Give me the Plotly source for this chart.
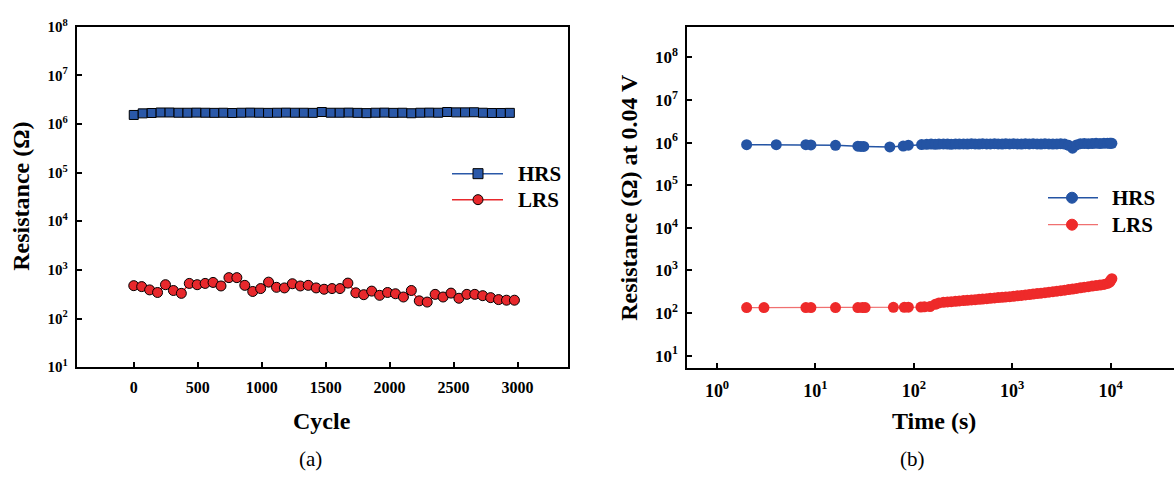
import plotly.graph_objects as go

# ---------------- data ----------------
# (a) endurance
cycle_hrs = [0, 70, 140, 210, 280, 350, 420, 490, 560, 630, 700, 770, 840, 910, 980,
             1050, 1120, 1190, 1260, 1330, 1400, 1470, 1540, 1610, 1680, 1750, 1820,
             1890, 1960, 2030, 2100, 2170, 2240, 2310, 2380, 2450, 2520, 2590, 2660,
             2730, 2800, 2870, 2940]
r_hrs_cycle = [1.53e6, 1.65e6, 1.68e6, 1.72e6, 1.72e6, 1.70e6, 1.70e6, 1.71e6, 1.70e6,
               1.69e6, 1.70e6, 1.68e6, 1.70e6, 1.71e6, 1.70e6, 1.69e6, 1.70e6, 1.71e6,
               1.70e6, 1.70e6, 1.69e6, 1.76e6, 1.70e6, 1.70e6, 1.71e6, 1.69e6, 1.67e6,
               1.70e6, 1.71e6, 1.69e6, 1.70e6, 1.66e6, 1.70e6, 1.71e6, 1.70e6, 1.76e6,
               1.73e6, 1.73e6, 1.74e6, 1.70e6, 1.68e6, 1.68e6, 1.69e6]
cycle_lrs = [0, 62, 124, 186, 248, 310, 372, 434, 496, 558, 620, 682, 744, 806, 868,
             930, 992, 1054, 1116, 1178, 1240, 1302, 1364, 1426, 1488, 1550, 1612, 1674,
             1736, 1798, 1860, 1922, 1984, 2046, 2108, 2170, 2232, 2294, 2356, 2418,
             2480, 2542, 2604, 2666, 2728, 2790, 2852, 2914, 2976]
r_lrs_cycle = [474, 453, 388, 343, 496, 377, 329, 527, 496, 527,
               552, 467, 693, 693, 481, 360, 413, 560, 438, 426,
               519, 467, 481, 426, 400, 413, 413, 535, 338, 309,
               366, 300, 343, 323, 277, 377, 231, 218, 314, 277,
               333, 261, 314, 314, 295, 269, 245, 238, 238]

# (b) retention
time_hrs = [2, 4, 8, 9, 16, 27, 29, 31, 57, 78, 88,
            120, 135, 150, 165, 180, 200, 220, 240, 265, 290,
            320, 350, 385, 420, 460, 500, 550, 600, 660, 720,
            790, 860, 940, 1030, 1130, 1240, 1360, 1490, 1630, 1790,
            1960, 2150, 2360, 2590, 2840, 3110, 3410, 3740, 4100, 4500,
            4930, 5400, 5920, 6490, 7110, 7800, 8550, 9300, 9800, 10000, 10300]
r_hrs_time = [8.9e5, 8.9e5, 8.9e5, 8.8e5, 8.6e5, 8.2e5, 8.1e5, 8.1e5, 7.9e5, 8.3e5, 8.7e5,
              9.0e5, 9.1e5, 9.2e5, 9.1e5, 9.2e5, 9.3e5, 9.2e5, 9.1e5, 9.3e5, 9.2e5,
              9.3e5, 9.2e5, 9.4e5, 9.3e5, 9.2e5, 9.4e5, 9.3e5, 9.3e5, 9.4e5, 9.3e5,
              9.2e5, 9.4e5, 9.3e5, 9.4e5, 9.3e5, 9.2e5, 9.4e5, 9.3e5, 9.4e5, 9.3e5,
              9.2e5, 9.4e5, 9.3e5, 9.2e5, 9.3e5, 9.4e5, 9.2e5, 8.6e5, 7.4e5, 8.8e5,
              9.4e5, 9.5e5, 9.4e5, 9.5e5, 9.6e5, 9.5e5, 9.6e5, 9.7e5, 9.6e5, 9.7e5, 9.6e5]
time_lrs = [2, 3, 8, 9, 16, 27, 30, 32, 62, 80, 88, 118, 128, 146,
            165, 180, 200, 220, 240, 265, 290,
            320, 350, 385, 420, 460, 500, 550, 600, 660, 720,
            790, 860, 940, 1030, 1130, 1240, 1360, 1490, 1630, 1790,
            1960, 2150, 2360, 2590, 2840, 3110, 3410, 3740, 4100, 4500,
            4930, 5400, 5920, 6490, 7110, 7800, 8550, 9300, 9800, 10000, 10300]
r_lrs_time = [134, 134, 134, 134, 134, 134, 134, 134, 136, 136, 137, 138, 140, 142,
              160, 172, 178, 182, 185, 188, 192,
              196, 199, 203, 206, 210, 213, 217, 221, 226, 230,
              234, 238, 242, 247, 253, 259, 265, 272, 279, 286,
              293, 300, 308, 316, 325, 334, 344, 355, 366, 378,
              390, 403, 416, 430, 440, 452, 470, 495, 530, 580, 640]

log_ticks = [10, 100, 1e3, 1e4, 1e5, 1e6, 1e7, 1e8]
log_ticktext = ["10<sup>%d</sup>" % i for i in range(1, 9)]
time_ticks = [1, 10, 100, 1e3, 1e4]
time_ticktext = ["10<sup>%d</sup>" % i for i in range(0, 5)]
cycle_ticks = [0, 500, 1000, 1500, 2000, 2500, 3000]
legend_names = ["HRS", "LRS"]

# ---------------- style ----------------
FONT = "Liberation Serif"
BLUE = "#2a58a8"
RED = "#e8282c"
BLUE2 = "#2454a4"
RED2 = "#ee2a2a"
W, H = 1174, 483


def px_x(p):
    return p / W


def px_y(p):
    return (H - p) / H


fig = go.Figure()

fig.add_trace(go.Scatter(
    x=cycle_hrs, y=r_hrs_cycle, name="HRS", mode="lines+markers",
    line=dict(color=BLUE, width=1.5),
    marker=dict(symbol="square", size=9, color=BLUE, line=dict(color="black", width=1)),
    xaxis="x", yaxis="y", showlegend=False))
fig.add_trace(go.Scatter(
    x=cycle_lrs, y=r_lrs_cycle, name="LRS", mode="lines+markers",
    line=dict(color=RED, width=1.5),
    marker=dict(symbol="circle", size=10, color=RED, line=dict(color="black", width=1)),
    xaxis="x", yaxis="y", showlegend=False))

fig.add_trace(go.Scatter(
    x=time_hrs, y=r_hrs_time, name="HRS", mode="lines+markers",
    line=dict(color=BLUE2, width=1.5),
    marker=dict(symbol="circle", size=11, color=BLUE2),
    xaxis="x2", yaxis="y2", showlegend=False))
fig.add_trace(go.Scatter(
    x=time_lrs, y=r_lrs_time, name="LRS", mode="lines+markers",
    line=dict(color="#f07070", width=1.2),
    marker=dict(symbol="circle", size=11, color=RED2),
    xaxis="x2", yaxis="y2", showlegend=False))

tick_common = dict(ticks="inside", ticklen=5, tickwidth=1.5, tickcolor="black",
                   showline=True, linecolor="black", linewidth=2,
                   showgrid=False, zeroline=False)

fig.update_layout(
    width=W, height=H,
    margin=dict(l=0, r=0, t=0, b=0),
    paper_bgcolor="white", plot_bgcolor="white",
    showlegend=False,
    xaxis=dict(domain=[px_x(76.7), px_x(568.3)], anchor="y",
               range=[-446, 3397], tickvals=cycle_ticks, mirror=True,
               tickfont=dict(family=FONT, size=16, color="black", weight="bold"),
               ticklabelstandoff=5, **tick_common),
    yaxis=dict(domain=[px_y(371), px_y(17.3)], anchor="x", type="log",
               range=[1, 8], tickvals=log_ticks, ticktext=log_ticktext, mirror=True,
               tickfont=dict(family=FONT, size=15, color="black", weight="bold"),
               ticklabelstandoff=4, **tick_common),
    xaxis2=dict(domain=[px_x(687.3), 1.0], anchor="y2", type="log",
                range=[-0.302, 4.644], tickvals=time_ticks, ticktext=time_ticktext,
                mirror=True,
                tickfont=dict(family=FONT, size=18, color="black", weight="bold"),
                ticklabelstandoff=5, **tick_common),
    yaxis2=dict(domain=[px_y(372.3), px_y(17.3)], anchor="x2", type="log",
                range=[0.70, 8.72], tickvals=log_ticks, ticktext=log_ticktext,
                tickfont=dict(family=FONT, size=17, color="black", weight="bold"),
                ticklabelstandoff=4, **tick_common),
)

# ---- hand-drawn legends (line + marker + label) ----
shapes = []
legend_specs = [
    # (line x0, x1, marker x, text x, y, line colour, marker type, fill, outline)
    (452, 503, 478, 516, 170, BLUE, "rect", BLUE, "black", 1.5),
    (452, 503, 478, 516, 197, RED, "circle", RED, "black", 1.5),
    (1048, 1098, 1072, 1110, 195, BLUE2, "circle", BLUE2, BLUE2, 1.5),
    (1048, 1098, 1072, 1110, 223, "#f07070", "circle", RED2, RED2, 1.2),
]
legend_labels = [legend_names[0], legend_names[1], legend_names[0], legend_names[1]]
annotations = []
for (lx0, lx1, mx, tx, ly, lc, mtype, fill, outl, lw), lab in zip(legend_specs, legend_labels):
    shapes.append(dict(type="line", xref="paper", yref="paper",
                       x0=px_x(lx0), x1=px_x(lx1), y0=px_y(ly), y1=px_y(ly),
                       line=dict(color=lc, width=lw)))
    r = 5 if mtype == "rect" else 5.5
    if outl == "black":
        r = 5
    shapes.append(dict(type=mtype, xref="paper", yref="paper",
                       xsizemode="pixel", ysizemode="pixel",
                       xanchor=px_x(mx), yanchor=px_y(ly),
                       x0=-r, x1=r, y0=-r, y1=r,
                       fillcolor=fill, line=dict(color=outl, width=1)))
    annotations.append(dict(text=lab, x=px_x(tx), y=px_y(ly), xanchor="left",
                            yanchor="middle",
                            font=dict(family=FONT, size=21, color="black", weight="bold")))

ann_font_b = dict(family=FONT, size=24, color="black", weight="bold")
ann_font_r = dict(family=FONT, size=21, color="black")
annotations += [
    dict(text="Cycle", x=px_x(322), y=px_y(427), font=ann_font_b),
    dict(text="(a)", x=px_x(310), y=px_y(466), font=ann_font_r),
    dict(text="Resistance (Ω)", x=px_x(21), y=px_y(194), textangle=-90, font=ann_font_b),
    dict(text="Time (s)", x=px_x(934), y=px_y(427), font=ann_font_b),
    dict(text="(b)", x=px_x(912), y=px_y(466), font=ann_font_r),
    dict(text="Resistance (Ω) at 0.04 V", x=px_x(629), y=px_y(195), textangle=-90,
         font=ann_font_b),
]
for a in annotations:
    a.setdefault("xanchor", "center")
    a.setdefault("yanchor", "middle")
    a.update(xref="paper", yref="paper", showarrow=False)
fig.update_layout(annotations=annotations, shapes=shapes)

fig.write_html("out.html")
